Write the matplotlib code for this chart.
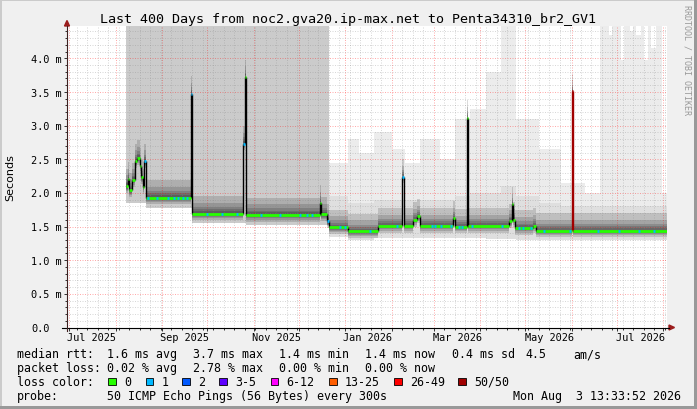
import numpy as np
import matplotlib
matplotlib.use("Agg")
import matplotlib.pyplot as plt
import matplotlib.dates as mdates
import matplotlib.transforms as mtransforms
from matplotlib.patches import Rectangle, Polygon
from matplotlib.lines import Line2D
from datetime import datetime, timedelta

W, H, DPI = 697, 410, 100
MONO = "DejaVu Sans Mono"

t_start = datetime(2025, 6, 29, 13, 33, 52)
t_end = datetime(2026, 8, 3, 13, 33, 52)

# median rtt in ms, each value holds from its date to the next one
med_dates = ["2025-08-08", "2025-08-09", "2025-08-10", "2025-08-12", "2025-08-14",
             "2025-08-15", "2025-08-17", "2025-08-18", "2025-08-19", "2025-08-20",
             "2025-08-21", "2025-09-20", "2025-09-21", "2025-10-25", "2025-10-26",
             "2025-10-27", "2025-12-15", "2025-12-16", "2025-12-20", "2025-12-21",
             "2026-01-03", "2026-01-23", "2026-02-08", "2026-02-09", "2026-02-15",
             "2026-02-18", "2026-02-20", "2026-03-14", "2026-03-15", "2026-03-23",
             "2026-03-24", "2026-04-20", "2026-04-22", "2026-04-23", "2026-04-24",
             "2026-05-06", "2026-05-08", "2026-06-01", "2026-06-02"]
med_ms = [2.10, 2.20, 2.04, 2.19, 2.47, 2.52, 2.40, 2.23, 2.09, 2.47,
          1.93, 3.47, 1.69, 2.73, 3.72, 1.67, 1.85, 1.68, 1.58, 1.49,
          1.43, 1.51, 2.24, 1.51, 1.60, 1.65, 1.51, 1.62, 1.50, 3.12,
          1.51, 1.58, 1.83, 1.60, 1.48, 1.51, 1.44, 3.51, 1.44]
med_loss = [0, 0, 0, 0, 0, 0, 0, 0, 0, 1,
            0, 1, 0, 1, 0, 0, 0, 0, 1, 0,
            0, 0, 1, 0, 0, 0, 0, 0, 0, 0,
            0, 0, 0, 0, 0, 0, 0, 7, 0]

# short stretches where one ping of 50 got lost
loss1_dates = ["2025-08-22", "2025-08-28", "2025-09-04", "2025-09-08", "2025-09-11",
               "2025-09-14", "2025-09-17", "2025-09-30", "2025-10-10", "2025-10-20",
               "2025-11-05", "2025-11-18", "2025-12-01", "2025-12-06", "2025-12-09",
               "2025-12-28", "2025-12-31", "2026-01-17", "2026-02-04", "2026-02-27",
               "2026-03-01", "2026-03-05", "2026-03-12", "2026-03-17", "2026-03-19",
               "2026-03-26", "2026-04-15", "2026-04-26", "2026-04-29", "2026-05-04",
               "2026-05-13", "2026-05-30", "2026-06-18", "2026-07-02", "2026-07-15",
               "2026-07-25"]

# smoke extents in ms
smoke_dates = ["2025-08-08", "2025-08-21", "2025-09-21", "2025-10-27", "2025-12-21",
               "2026-01-03", "2026-01-10", "2026-01-20", "2026-02-01", "2026-02-10",
               "2026-02-20", "2026-03-05", "2026-03-15", "2026-03-25", "2026-04-05",
               "2026-04-15", "2026-04-25", "2026-05-10", "2026-05-25", "2026-06-10",
               "2026-06-20", "2026-06-26", "2026-06-28", "2026-07-04", "2026-07-06",
               "2026-07-10", "2026-07-12", "2026-07-14", "2026-07-17", "2026-07-19",
               "2026-07-22", "2026-07-24", "2026-07-27", "2026-07-31"]
smoke_max = [4.6, 4.6, 4.6, 4.6, 2.45, 2.8, 2.6, 2.9, 2.65, 2.45,
             2.8, 2.5, 3.1, 3.25, 3.8, 4.6, 3.1, 2.65, 2.15, 2.0,
             4.6, 4.35, 4.6, 3.98, 4.6, 4.4, 4.6, 4.35, 4.6, 3.98,
             4.6, 4.15, 4.6, 2.0]
smoke_mid = [4.6, 4.6, 4.6, 4.6, 1.95, 1.85, 1.85, 1.9, 1.9, 1.9,
             1.9, 1.9, 1.95, 2.0, 2.0, 2.1, 1.95, 1.85, 1.8, 1.8,
             1.8, 1.8, 1.8, 1.8, 1.8, 1.8, 1.8, 1.8, 1.8, 1.8,
             1.8, 1.8, 1.8, 1.8]
smoke_low = [1.85, 1.78, 1.55, 1.53, 1.35, 1.30, 1.30, 1.33, 1.33, 1.33,
             1.33, 1.33, 1.33, 1.33, 1.32, 1.32, 1.30, 1.30, 1.30, 1.30,
             1.30, 1.30, 1.30, 1.30, 1.30, 1.30, 1.30, 1.30, 1.30, 1.30,
             1.30, 1.30, 1.30, 1.30]

ytick_vals = [0.0, 0.5, 1.0, 1.5, 2.0, 2.5, 3.0, 3.5, 4.0]
ytick_text = ["0.0", "0.5 m", "1.0 m", "1.5 m", "2.0 m", "2.5 m", "3.0 m", "3.5 m", "4.0 m"]
xlab_dates = ["2025-07-16", "2025-09-16", "2025-11-16", "2026-01-16",
              "2026-03-17", "2026-05-17", "2026-07-17"]
xlab_text = ["Jul 2025", "Sep 2025", "Nov 2025", "Jan 2026", "Mar 2026", "May 2026", "Jul 2026"]

loss_labels = ["0", "1", "2", "3-5", "6-12", "13-25", "26-49", "50/50"]
loss_colors = ["#26ff00", "#00b8ff", "#0059ff", "#5e00ff", "#ff00ff", "#ff5e00", "#ff0000", "#a10000"]

rtt_row = ["1.6 ms avg", "3.7 ms max", "1.4 ms min", "1.4 ms now", "0.4 ms sd", "4.5", "am/s"]
loss_row = ["0.02 % avg", "2.78 % max", "0.00 % min", "0.00 % now"]
probe_text = "50 ICMP Echo Pings (56 Bytes) every 300s"
stamp_text = "Mon Aug  3 13:33:52 2026"
title = "Last 400 Days from noc2.gva20.ip-max.net to Penta34310_br2_GV1"


def fx(x):
    return x / W


def fy(y):
    return 1 - y / H


def dnum(lst):
    return mdates.date2num([datetime.fromisoformat(d) for d in lst])


fig = plt.figure(figsize=(W / DPI, H / DPI), dpi=DPI, facecolor="#f0f0f0")
ax = fig.add_axes([fx(67), fy(328.5), 600 / W, (328.5 - 27.3) / H])
ax.set_facecolor("white")
x0, x1 = mdates.date2num(t_start), mdates.date2num(t_end)
ax.set_xlim(x0, x1)
ax.set_ylim(0, 4.475)
for s in ax.spines.values():
    s.set_visible(False)

# smoke
sx = np.append(dnum(smoke_dates), x1)
ext = lambda a: np.append(a, a[-1])
lowv, midv, maxv = ext(smoke_low), ext(smoke_mid), ext(smoke_max)
dense = np.where(midv > 4, midv, lowv)
ax.fill_between(sx, lowv, maxv, step="post", color="#ececec", lw=0, zorder=1)
ax.fill_between(sx, lowv, midv, step="post", color="#dfdfdf", lw=0, zorder=1.1)
ax.fill_between(sx, lowv, dense, step="post", color="#cbcbcb", lw=0, zorder=1.15)

mx = np.append(dnum(med_dates), x1)
m = np.array(med_ms)
# darker smoke close to the median, built up from thin translucent layers
for lo, hi in [(0.10, 0.26), (0.07, 0.16), (0.05, 0.10), (0.035, 0.065), (0.02, 0.04)]:
    ax.fill_between(mx, ext(m - lo), ext(m + hi), step="post", color="black",
                    alpha=0.14, lw=0, zorder=1.2)

# grid
months = [datetime(2025 + (6 + i) // 12, (6 + i) % 12 + 1, 1) for i in range(14)]
weeks = []
d = datetime(2025, 7, 6)
while d < t_end:
    weeks.append(d)
    d += timedelta(days=7)
ax.set_xticks(mdates.date2num(months))
ax.set_xticks(mdates.date2num(weeks), minor=True)
ax.set_yticks(np.arange(0.5, 4.01, 0.5))
ax.set_yticks(np.arange(0.1, 4.45, 0.1), minor=True)
ax.tick_params(which="both", direction="out", labelbottom=False, labelleft=False,
               color="#333333", width=0.7)
ax.tick_params(which="major", length=2.2)
ax.tick_params(which="minor", length=1.4)
ax.grid(which="minor", color="#888888", alpha=0.32, lw=0.72, ls=(0, (1, 1.5)))
ax.grid(which="major", color="#ff0000", alpha=0.33, lw=0.72, ls=(0, (1, 1.5)))
ax.set_axisbelow(False)

# median line
conn_lo = np.minimum(m[:-1], m[1:])
conn_hi = np.maximum(m[:-1], m[1:])
conn_c = [loss_colors[7] if 7 in (a, b) else "#000000" for a, b in zip(med_loss[:-1], med_loss[1:])]
ax.vlines(mx[1:-1], conn_lo, conn_hi, colors=conn_c, lw=1.0, zorder=3.8)
ax.hlines(m, mx[:-1], mx[1:], colors=[loss_colors[c] for c in med_loss], lw=2.0, zorder=4)
for dn in dnum(loss1_dates):
    i = np.searchsorted(mx, dn, side="right") - 1
    if 0 <= i < len(m):
        ax.hlines(m[i], dn, dn + 1.5, color=loss_colors[1], lw=2.0, zorder=4.5)

# axes lines and arrows
fig.add_artist(Line2D([fx(62), fx(669)], [fy(328.5)] * 2, color="black", lw=0.8))
fig.add_artist(Line2D([fx(67)] * 2, [fy(331.5), fy(27)], color="#402020", lw=0.8))
fig.add_artist(Polygon([(fx(669), fy(326)), (fx(669), fy(331)), (fx(674.5), fy(328.5))],
                       closed=True, color="#9b1c1c", transform=fig.transFigure))
fig.add_artist(Polygon([(fx(64.5), fy(27)), (fx(69.5), fy(27)), (fx(67), fy(21.5))],
                       closed=True, color="#9b1c1c", transform=fig.transFigure))

# tick labels
tx = mtransforms.blended_transform_factory(ax.transData, fig.transFigure)
for dstr, t in zip(xlab_dates, xlab_text):
    ax.text(dnum([dstr])[0], fy(341.5), t, transform=tx, ha="center", va="baseline",
            fontsize=7.35, family=MONO)
ty = mtransforms.blended_transform_factory(fig.transFigure, ax.transData) + \
    mtransforms.ScaledTranslation(0, -3.6 / DPI, fig.dpi_scale_trans)
for v, t in zip(ytick_vals, ytick_text):
    ax.text(fx(31), v, t, transform=ty, ha="left", va="baseline", fontsize=7.35, family=MONO)

fig.text(fx(10.5), fy(178), "Seconds", rotation=90, ha="center", va="center",
         fontsize=8, family="DejaVu Sans")
fig.text(0.5, fy(23.3), title, ha="center", va="baseline", fontsize=9.6, family=MONO)
fig.text(fx(687.3), fy(5), "RRDTOOL / TOBI OETIKER", rotation=270, ha="center", va="top",
         fontsize=6, family=MONO, color="#999999")

# legend
lf = dict(ha="left", va="baseline", fontsize=8.4, family=MONO)
rows_y = [358.5, 372.2, 385.9, 399.6]
fig.text(fx(16.7), fy(rows_y[0]), "median rtt:", **lf)
for xp, t in zip([107.3, 193.3, 279.3, 365, 451.7, 525, 573.3], rtt_row):
    fig.text(fx(xp), fy(rows_y[0]), t, **lf)
fig.text(fx(16.7), fy(rows_y[1]), "packet loss:", **lf)
for xp, t in zip([107.3, 193.3, 279.3, 365], loss_row):
    fig.text(fx(xp), fy(rows_y[1]), t, **lf)
fig.text(fx(16.7), fy(rows_y[2]), "loss color:", **lf)
box_x = [108.3, 145.7, 182.3, 219.3, 270.7, 329, 394, 458.3]
for bx, c, t in zip(box_x, loss_colors, loss_labels):
    fig.add_artist(Rectangle((fx(bx), fy(386)), 7.5 / W, 7 / H, transform=fig.transFigure,
                             facecolor=c, edgecolor="black", lw=0.6))
    fig.text(fx(bx + 15.7), fy(rows_y[2]), t, **lf)
fig.text(fx(16.7), fy(rows_y[3]), "probe:", **lf)
fig.text(fx(107.3), fy(rows_y[3]), probe_text, **lf)
fig.text(fx(681), fy(rows_y[3]), stamp_text, ha="right", va="baseline", fontsize=8.4, family=MONO)

# frame shading
fig.add_artist(Rectangle((0, 0), fx(2), 1, transform=fig.transFigure, color="#cbcbcb", lw=0))
fig.add_artist(Rectangle((0, fy(2)), 1, 2 / H, transform=fig.transFigure, color="#cbcbcb", lw=0))
fig.add_artist(Rectangle((fx(694), 0), 3 / W, 1, transform=fig.transFigure, color="#999999", lw=0))
fig.add_artist(Rectangle((0, 0), 1, 3 / H, transform=fig.transFigure, color="#999999", lw=0))

fig.savefig("out.png", dpi=DPI, facecolor=fig.get_facecolor())
